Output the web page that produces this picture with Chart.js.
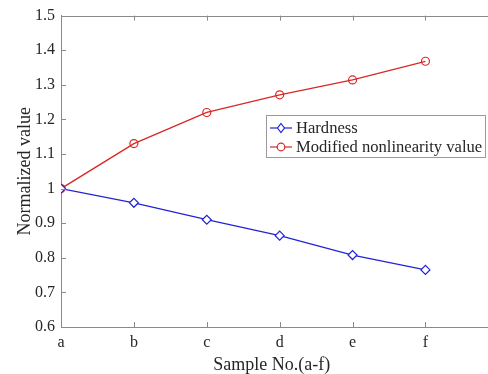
<!DOCTYPE html>
<html>
<head>
<meta charset="utf-8">
<script src="https://cdn.jsdelivr.net/npm/chart.js@4"></script>
<style>
  html, body { margin: 0; padding: 0; background: #fff; overflow: hidden; }
</style>
</head>
<body>
<canvas id="chart" width="488" height="374"></canvas>
<script>
const samples = ["a", "b", "c", "d", "e", "f"];
const hardness = [1.0, 0.959, 0.910, 0.864, 0.808, 0.765];
const modified = [1.0, 1.130, 1.220, 1.271, 1.314, 1.368];
const yTicks = [0.6, 0.7, 0.8, 0.9, 1.0, 1.1, 1.2, 1.3, 1.4, 1.5];

const axisColor = "#8a8a8a";
const textColor = "#262626";
const fontFamily = "'Liberation Serif', 'Times New Roman', serif";

function toPoints(values) {
    return values.map(function (v, i) { return { x: i, y: v }; });
}

// MATLAB-like box: top edge plus inward tick marks
const boxPlugin = {
    id: "box",
    afterDraw(chart) {
        const ctx = chart.ctx;
        const area = chart.chartArea;
        const xs = chart.scales.x;
        const ys = chart.scales.y;
        ctx.save();
        ctx.strokeStyle = axisColor;
        ctx.lineWidth = 1;
        ctx.beginPath();
        ctx.moveTo(area.left, Math.round(area.top) + 0.5);
        ctx.lineTo(chart.width, Math.round(area.top) + 0.5);
        ctx.moveTo(area.right, Math.round(area.bottom) + 0.5);
        ctx.lineTo(chart.width, Math.round(area.bottom) + 0.5);
        samples.forEach(function (s, i) {
            const px = Math.round(xs.getPixelForValue(i)) + 0.5;
            ctx.moveTo(px, area.bottom);
            ctx.lineTo(px, area.bottom - 5);
            ctx.moveTo(px, area.top);
            ctx.lineTo(px, area.top + 5);
        });
        yTicks.forEach(function (v) {
            const py = Math.round(ys.getPixelForValue(v)) + 0.5;
            ctx.moveTo(area.left, py);
            ctx.lineTo(area.left + 5, py);
        });
        ctx.stroke();
        ctx.restore();
    }
};

// boxed legend inside the plot, like the MATLAB one
const legendPlugin = {
    id: "boxLegend",
    afterDraw(chart) {
        const ctx = chart.ctx;
        const x0 = 266, y0 = 115, w = 219, h = 42;
        ctx.save();
        ctx.fillStyle = "#fff";
        ctx.fillRect(x0, y0, w, h);
        ctx.strokeStyle = "#9a9a9a";
        ctx.lineWidth = 1;
        ctx.strokeRect(x0 + 0.5, y0 + 0.5, w, h);
        chart.data.datasets.forEach(function (ds, i) {
            const y = y0 + 13 + i * 19;
            ctx.strokeStyle = ds.borderColor;
            ctx.lineWidth = 1.2;
            ctx.beginPath();
            ctx.moveTo(x0 + 4, y);
            ctx.lineTo(x0 + 26, y);
            ctx.stroke();
            ctx.beginPath();
            if (ds.pointStyle === "rectRot") {
                ctx.moveTo(x0 + 15, y - 4.5);
                ctx.lineTo(x0 + 18.5, y);
                ctx.lineTo(x0 + 15, y + 4.5);
                ctx.lineTo(x0 + 11.5, y);
                ctx.closePath();
            } else {
                ctx.arc(x0 + 15, y, 3.8, 0, Math.PI * 2);
            }
            ctx.fillStyle = "#fff";
            ctx.fill();
            ctx.stroke();
            ctx.fillStyle = textColor;
            ctx.font = "16.6px " + fontFamily;
            ctx.textBaseline = "middle";
            ctx.fillText(ds.label, x0 + 30, y + 1);
        });
        ctx.restore();
    }
};

const ctx = document.getElementById("chart").getContext("2d");
new Chart(ctx, {
    type: "line",
    data: {
        datasets: [
            {
                label: "Hardness",
                data: toPoints(hardness),
                borderColor: "rgb(35, 35, 215)",
                backgroundColor: "#fff",
                borderWidth: 1.3,
                pointStyle: "rectRot",
                pointRadius: 4.5,
                pointBorderWidth: 1.2,
                tension: 0
            },
            {
                label: "Modified nonlinearity value",
                data: toPoints(modified),
                borderColor: "rgb(215, 40, 40)",
                backgroundColor: "rgba(255,255,255,0)",
                borderWidth: 1.3,
                pointStyle: "circle",
                pointRadius: 4,
                pointBorderWidth: 1.2,
                tension: 0
            }
        ]
    },
    options: {
        responsive: false,
        animation: false,
        devicePixelRatio: 1,
        layout: { padding: { left: 16, top: 15, right: 0, bottom: 0 } },
        plugins: {
            legend: { display: false },
            tooltip: { enabled: false }
        },
        scales: {
            x: {
                type: "linear",
                min: 0,
                max: 5.78,
                afterFit(scale) { scale.height = 47; },
                afterBuildTicks(scale) {
                    scale.ticks = samples.map(function (s, i) { return { value: i }; });
                },
                grid: { display: false, drawTicks: false },
                border: { display: true, color: axisColor },
                ticks: {
                    padding: 6,
                    color: textColor,
                    font: { family: fontFamily, size: 16 },
                    callback: function (v) { return samples[v]; }
                },
                title: {
                    display: true,
                    text: "Sample No.(a-f)",
                    color: textColor,
                    padding: 0,
                    font: { family: fontFamily, size: 18, lineHeight: 1 }
                }
            },
            y: {
                min: 0.6,
                max: 1.5,
                afterFit(scale) { scale.width = 45; },
                afterBuildTicks(scale) {
                    scale.ticks = yTicks.map(function (v) { return { value: v }; });
                },
                grid: { display: false, drawTicks: false },
                border: { display: true, color: axisColor },
                ticks: {
                    padding: 6,
                    color: textColor,
                    font: { family: fontFamily, size: 16 },
                    callback: function (v) { return String(+v.toFixed(1)); }
                },
                title: {
                    display: true,
                    text: "Normalized value",
                    color: textColor,
                    padding: 0,
                    font: { family: fontFamily, size: 18, lineHeight: 1 }
                }
            }
        }
    },
    plugins: [boxPlugin, legendPlugin]
});
</script>
</body>
</html>
